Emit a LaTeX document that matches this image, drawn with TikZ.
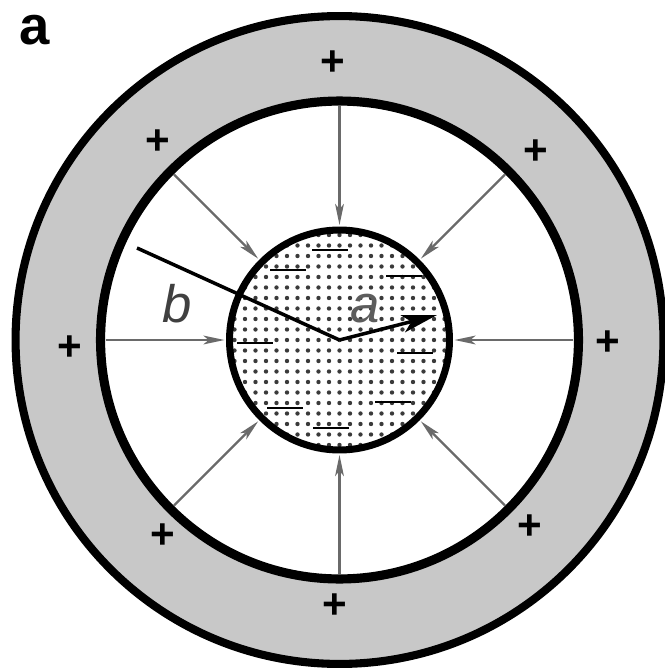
\documentclass[tikz,border=0pt]{standalone}
\usepackage{fontspec}
\setmainfont{Liberation Sans}
\usetikzlibrary{arrows.meta,calc}
\definecolor{anillo}{HTML}{C8C8C8}
\definecolor{campo}{HTML}{6A6A6A}
\definecolor{punto}{HTML}{3A3A3A}
\definecolor{letra}{HTML}{404040}

\begin{document}
\begin{tikzpicture}[x=0.02cm, y=-0.02cm,
      fld/.style={draw=campo, line width=1.3pt, -{Stealth[length=12pt, width=5pt, inset=3pt]}},
      pls/.style={font=\fontsize{24}{24}\selectfont\bfseries, inner sep=0pt},
      mns/.style={line width=1.3pt},
      rad/.style={line width=2pt},
      lbl/.style={font=\fontsize{30}{30}\selectfont\itshape, text=letra, inner sep=0pt}]
  \useasboundingbox (0,0) rectangle (664,669);
  \coordinate (C) at (339.5,340);
  % shell
  \fill[anillo, even odd rule] (C) circle (6.48cm) (C) circle (4.78cm);
  \draw[line width=4.6pt] (C) circle (6.48cm);
  \draw[line width=5.2pt] (C) circle (4.78cm);
  % core
  \begin{scope}
    \clip (C) circle (2.2cm);
    \foreach \i in {-11,...,11}
      \foreach \j in {-11,...,11}
        \fill[punto] ($(C)+(\i*10.5,\j*10.5)$) circle (1.25pt);
  \end{scope}
  \draw[line width=4pt] (C) circle (2.2cm);
  % field
  \foreach \t in {0,45,...,315}
    \draw[fld] ($(C)+(\t:4.68cm)$) -- ($(C)+(\t:2.3cm)$);
  % charges
  \foreach \x/\y [count=\n] in {333/63, 536/152, 608/343, 530/527, 335/606, 163/536, 70/348, 158/142}
    \node[pls] (plus\n) at (\x,\y) {+};
  \foreach \x/\y in {330/250, 404/276, 415/353, 393/402, 331/428, 285/408, 255/343, 288/270}
    \draw[mns] (\x-18,\y) -- (\x+18,\y);
  % radii
  \coordinate (B) at (137,248);
  \coordinate (A) at (437,315);
  \draw[rad] (C) -- (B);
  \draw[rad, -{Stealth[length=20pt, width=10pt, inset=5pt]}] (C) -- (A);
  \node[lbl] (lb) at (177,304) {b};
  \node[lbl, text=letra!85] (la) at (365,309) {a};
  \node[font=\fontsize{31}{31}\selectfont\bfseries, inner sep=0pt] (fig) at (35,30) {a};
\end{tikzpicture}
\end{document}
